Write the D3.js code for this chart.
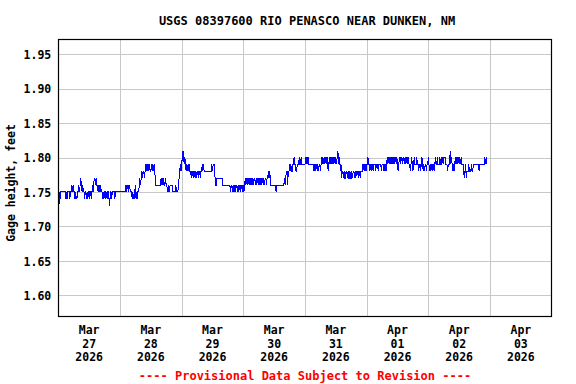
<!DOCTYPE html>
<html><head><meta charset="utf-8">
<script src="https://cdn.jsdelivr.net/npm/d3@7"></script>
<style>body{margin:0;background:#fff}text{font-family:"DejaVu Sans Mono",monospace;font-weight:bold}</style>
</head><body><svg id="c" width="576" height="384"></svg>
<script>
const title = "USGS 08397600 RIO PENASCO NEAR DUNKEN, NM";
const yLabel = "Gage height, feet";
const footer = "---- Provisional Data Subject to Revision ----";
const yTicks = [1.60, 1.65, 1.70, 1.75, 1.80, 1.85, 1.90, 1.95];
const xTickMonths = ["Mar", "Mar", "Mar", "Mar", "Mar", "Apr", "Apr", "Apr"];
const xTickDays = ["27", "28", "29", "30", "31", "01", "02", "03"];
const xTickYears = ["2026", "2026", "2026", "2026", "2026", "2026", "2026", "2026"];
const dayStarts = ["2026-03-27", "2026-03-28", "2026-03-29", "2026-03-30", "2026-03-31", "2026-04-01", "2026-04-02"];

// 15-minute gage heights (feet), one array per day starting at midnight
const mar27 = [1.74,1.73,1.75,1.74,1.75,1.75,
 1.75,1.75,1.75,1.75,1.75,1.75,1.74,1.75,1.74,1.75,1.75,1.75,1.74,1.75,1.75,
 1.76,1.75,1.76,1.75,1.75,
 1.74,1.75,1.74,1.74,1.75,
 1.75,1.76,1.75,1.76,1.77,1.76,1.75,1.76,1.75,
 1.75,1.74,1.75,1.75,1.74,1.75,1.74,1.75,1.75,1.74,1.75,1.75,1.74,
 1.76,1.75,1.76,1.77,1.77,1.76,1.77,1.76,
 1.76,1.75,1.76,1.76,1.75,1.76,1.75,
 1.75,1.74,1.75,1.74,1.75,1.75,1.74,1.75,1.74,1.75,1.75,1.74,1.73,1.75,1.75,1.74,1.75,1.75,1.75,1.75,1.74,1.75,1.75,1.75,1.75,1.75,1.75,1.75];
const mar28 = [1.75,1.75,1.75,1.75,1.75,1.75,1.75,1.75,1.75,
 1.76,1.75,1.76,1.76,1.75,1.76,1.76,1.75,
 1.75,1.75,1.74,1.75,1.74,1.74,1.75,1.76,1.74,1.75,1.74,1.75,
 1.75,1.76,1.77,1.76,
 1.77,1.78,1.77,1.78,1.78,1.77,1.78,1.79,
 1.79,1.78,1.79,1.78,1.79,1.79,1.78,1.78,1.79,1.78,1.79,1.78,1.79,1.78,1.77,
 1.76,1.76,1.76,1.76,1.76,1.76,1.76,1.76,
 1.77,1.76,1.77,1.76,1.77,1.76,1.76,1.77,1.76,1.76,
 1.75,1.76,1.75,1.75,1.76,
 1.76,1.76,1.76,1.75,
 1.75,1.75,1.75,1.75,1.76,1.75,1.75,1.75,
 1.76,1.77,1.78,1.79,1.78];
const mar29 = [1.79,1.80,
 1.81,1.80,1.79,1.80,
 1.79,1.78,1.79,1.78,1.79,1.78,1.79,1.78,1.78,
 1.77,1.78,
 1.78,1.77,1.78,1.78,1.77,1.78,1.77,1.78,1.78,1.77,1.78,1.78,1.77,1.78,1.78,
 1.79,1.78,1.79,
 1.78,1.78,1.78,1.78,1.78,1.78,1.78,1.78,1.78,1.78,1.78,1.78,
 1.79,1.78,1.79,1.79,1.79,
 1.77,1.76,1.76,
 1.77,1.77,1.77,1.77,1.77,1.77,1.77,1.77,1.77,
 1.76,1.76,1.76,1.76,1.76,1.76,1.76,1.76,1.76,1.76,1.76,
 1.76,1.75,1.76,1.76,1.75,1.76,1.75,1.75,1.76,1.75,1.76,1.76,1.75,1.76,1.75,1.76,1.76,1.75,1.76,1.76,1.75];
const mar30 = [1.76,1.75,1.76,
 1.77,1.76,1.77,1.77,1.76,1.77,1.76,1.77,1.77,1.76,
 1.77,1.76,1.77,1.76,1.77,1.77,1.76,1.77,1.76,1.77,
 1.77,1.76,1.77,1.76,1.77,1.76,1.77,1.77,1.76,1.77,
 1.76,1.77,1.77,1.76,1.77,1.77,
 1.78,1.77,1.78,1.77,
 1.76,1.76,1.76,1.76,1.76,1.76,1.76,1.76,
 1.75,1.76,1.76,
 1.76,1.76,1.76,1.76,1.76,1.76,1.76,1.76,1.76,1.76,
 1.77,1.76,1.77,
 1.78,1.78,1.76,1.78,1.78,
 1.79,1.78,1.79,1.78,1.78,1.79,
 1.79,1.80,1.79,1.79,1.78,
 1.78,1.79,1.79,
 1.79,1.80,1.79,1.79,1.80,1.79,1.79,1.79,
 1.79,1.79];
const mar31 = [1.79,1.80,1.80,1.79,1.80,
 1.80,1.79,1.79,1.79,1.79,1.79,1.79,1.79,1.79,1.78,
 1.79,1.78,1.79,1.79,1.78,1.79,1.78,1.79,1.79,1.78,1.79,
 1.80,1.79,1.80,1.79,1.80,
 1.79,1.80,1.80,1.79,1.80,1.78,1.79,1.80,1.79,1.80,1.80,1.79,
 1.80,1.79,1.80,1.80,1.79,1.80,1.79,1.80,
 1.81,1.80,1.79,
 1.80,1.78,1.79,1.77,1.78,
 1.78,1.77,1.78,1.77,1.77,1.78,
 1.78,1.77,1.78,1.77,1.77,1.78,1.77,1.77,1.78,1.77,1.78,1.78,1.77,1.78,1.77,1.78,1.78,1.78,1.77,1.78,1.78,1.77,1.78,1.78,
 1.78,1.79,
 1.79,1.78,1.79,1.79,1.78];
const apr01 = [1.79,1.79,1.80,1.79,1.79,1.78,
 1.79,1.78,1.79,1.79,1.78,1.79,1.79,1.79,1.78,1.79,1.79,1.79,1.78,1.79,1.79,1.79,1.79,1.78,1.79,1.79,1.79,1.78,1.79,1.79,1.78,1.79,
 1.80,1.79,1.80,1.80,1.79,
 1.80,1.79,1.80,1.80,1.79,1.80,1.79,1.80,1.80,1.79,1.80,1.79,
 1.78,1.79,1.80,
 1.80,1.79,1.80,1.80,1.79,1.80,1.80,1.79,1.80,1.79,1.80,1.80,1.79,1.80,1.79,
 1.79,1.78,1.79,1.80,1.79,1.78,1.79,1.80,1.79,
 1.79,1.79,1.80,1.79,1.79,1.78,1.79,1.79,1.78,1.79,1.80,1.79,1.78,1.79,
 1.78,1.79,1.79,1.78,1.79,1.79];
const apr02 = [1.80,1.79,1.78,1.79,1.78,1.79,1.79,
 1.78,1.79,1.78,
 1.79,1.80,1.79,1.79,1.80,1.79,1.79,1.79,1.80,1.79,1.79,
 1.80,1.80,1.79,1.80,1.80,1.80,
 1.79,1.79,1.79,1.78,1.79,1.79,1.79,
 1.81,1.79,
 1.80,1.79,1.78,1.79,1.78,1.79,
 1.80,1.79,1.80,1.79,1.80,1.80,1.79,1.80,1.79,1.80,1.79,
 1.79,1.79,1.78,
 1.77,1.78,1.79,1.77,1.78,
 1.78,1.78,1.79,1.78,1.78,1.78,1.79,1.78,1.78,1.79,
 1.79,1.79,1.79,1.79,1.79,1.79,1.79,1.79,1.78,
 1.79,1.79,1.79,1.79,1.79,1.79,1.79,1.79,
 1.80,1.79,1.80,1.79];
const dayValues = [mar27, mar28, mar29, mar30, mar31, apr01, apr02];

const m = {left: 58.3, right: 551.7, top: 39, bottom: 316};
const svg = d3.select("#c");

const x = d3.scaleUtc()
  .domain([new Date(Date.UTC(2026, 2, 27)), new Date(Date.UTC(2026, 3, 4))])
  .range([m.left, m.right]);
const y = d3.scaleLinear().domain([1.57, 1.972]).range([m.bottom, m.top]);

const series = [];
dayValues.forEach((vals, d) => {
  const t0 = new Date(dayStarts[d] + "T00:00:00Z").getTime();
  vals.forEach((v, j) => series.push({t: new Date(t0 + j * 15 * 60000), v}));
});

// horizontal gridlines
const gy = svg.append("g").attr("transform", `translate(${m.left},0)`)
  .call(d3.axisLeft(y).tickValues(yTicks).tickSize(-(m.right - m.left)).tickFormat(""));
gy.select(".domain").remove();
gy.selectAll("line").attr("stroke", "#c8c8c8").attr("shape-rendering", "crispEdges");

// vertical gridlines at midnight
const dayTicks = d3.utcDay.range(new Date(Date.UTC(2026, 2, 28)), new Date(Date.UTC(2026, 3, 4)));
const gx = svg.append("g").attr("transform", `translate(0,${m.bottom})`)
  .call(d3.axisBottom(x).tickValues(dayTicks).tickSize(-(m.bottom - m.top)).tickFormat(""));
gx.select(".domain").remove();
gx.selectAll("line").attr("stroke", "#c8c8c8").attr("shape-rendering", "crispEdges");

// y tick labels
const yl = svg.append("g").attr("transform", `translate(${m.left},0)`)
  .call(d3.axisLeft(y).tickValues(yTicks).tickSize(0).tickPadding(7).tickFormat(d3.format(".2f")));
yl.select(".domain").remove();
yl.selectAll("text").attr("font-size", 11.5).attr("font-family", "DejaVu Sans Mono")
  .attr("font-weight", "bold").attr("fill", "#000").attr("dy", "0.36em");

// x labels at noon of each day
const noons = xTickDays.map((_, i) => new Date(Date.UTC(2026, 2, 27 + i, 12)));
const xl = svg.append("g");
noons.forEach((t, i) => {
  const tx = xl.append("text").attr("x", x(t)).attr("text-anchor", "middle")
    .attr("font-size", 11.5).attr("fill", "#000");
  tx.append("tspan").attr("x", x(t)).attr("y", 334).text(xTickMonths[i]);
  tx.append("tspan").attr("x", x(t)).attr("y", 347.5).text(xTickDays[i]);
  tx.append("tspan").attr("x", x(t)).attr("y", 360.5).text(xTickYears[i]);
});

// data line
svg.append("path").datum(series)
  .attr("fill", "none").attr("stroke", "#0000ff").attr("stroke-width", 1)
  .attr("shape-rendering", "crispEdges")
  .attr("d", d3.line().x(d => x(d.t)).y(d => y(d.v)));

// frame
svg.append("rect").attr("x", 58.5).attr("y", m.top + 0.5)
  .attr("width", 493).attr("height", m.bottom - m.top)
  .attr("fill", "none").attr("stroke", "#000").attr("stroke-width", 1.2);

// title
svg.append("text").attr("x", 307).attr("y", 25)
  .attr("text-anchor", "middle").attr("font-size", 12).attr("fill", "#000").text(title);

// y label
svg.append("text").attr("transform", "translate(15,183) rotate(-90)")
  .attr("text-anchor", "middle").attr("font-size", 11.5).attr("fill", "#000").text(yLabel);

// footer
svg.append("text").attr("x", 305).attr("y", 379.5)
  .attr("text-anchor", "middle").attr("font-size", 12).attr("fill", "#ff0000").text(footer);
</script></body></html>
